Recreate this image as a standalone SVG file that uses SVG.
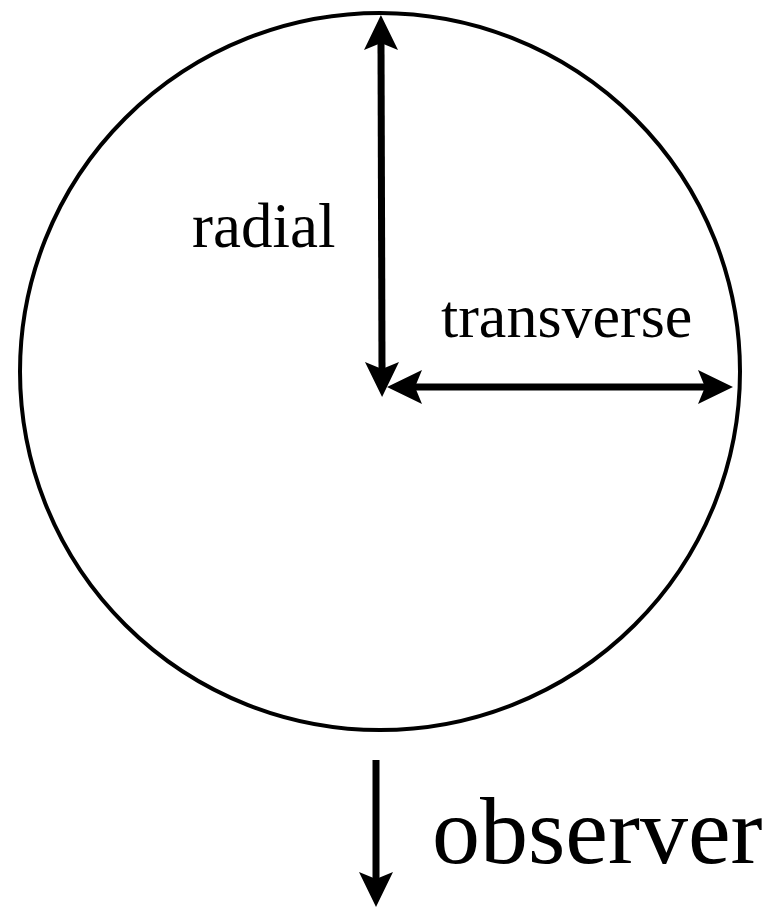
<svg xmlns="http://www.w3.org/2000/svg" width="766" height="909" viewBox="0 0 766 909">
  <style>
    .outline { fill: none; stroke: #000; stroke-width: 4; }
    .shaft { fill: none; stroke: #000; stroke-width: 7; }
    .label { font-family: "Liberation Serif", "Times New Roman", serif; fill: #000; }
  </style>
  <defs>
    <marker id="head" viewBox="-36 -18 37 36" refX="-28" refY="0" markerWidth="37" markerHeight="36" markerUnits="userSpaceOnUse" orient="auto-start-reverse">
      <path d="M0,0 L-35,-17 L-28,0 L-35,17 Z" fill="#000"/>
    </marker>
  </defs>
  <rect width="766" height="909" fill="#fff"/>
  <g id="circle">
    <ellipse class="outline" cx="380" cy="371.5" rx="360" ry="358.5"/>
  </g>
  <g id="connectors">
    <line id="radial-arrow" class="shaft" x1="381" y1="43" x2="382" y2="369" marker-start="url(#head)" marker-end="url(#head)"/>
    <line id="transverse-arrow" class="shaft" x1="415" y1="387" x2="705" y2="387" marker-start="url(#head)" marker-end="url(#head)"/>
    <line id="observer-arrow" class="shaft" x1="376" y1="760" x2="376" y2="879" marker-end="url(#head)"/>
  </g>
  <g id="label-radial">
    <text class="label" x="192" y="247" font-size="63">radial</text>
  </g>
  <g id="label-transverse">
    <text class="label" x="441" y="337" font-size="62">transverse</text>
  </g>
  <g id="label-observer">
    <text class="label" x="432" y="863" font-size="96">observer</text>
  </g>
</svg>
